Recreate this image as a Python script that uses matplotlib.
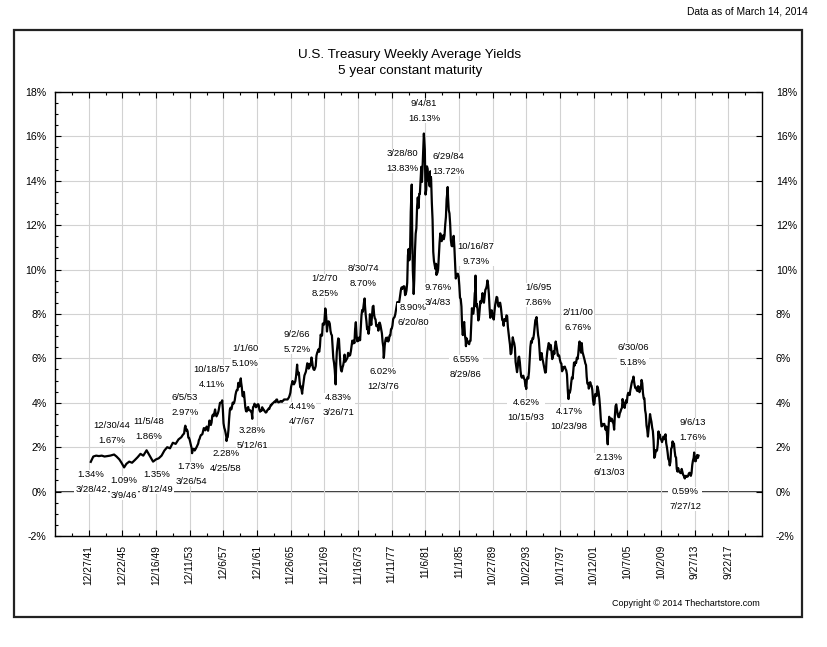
import matplotlib
matplotlib.use('Agg')
import matplotlib.pyplot as plt
import matplotlib.patches as patches
from matplotlib.ticker import FixedLocator, MultipleLocator
import matplotlib.dates as mdates
import numpy as np
import pandas as pd

plt.rcParams['font.family'] = ['Liberation Sans', 'DejaVu Sans']

# ---------------- data ----------------
early_dates = ['1942-03-28', '1942-07-15', '1942-11-15', '1943-03-15', '1943-07-15', '1943-11-15',
               '1944-03-15', '1944-07-15', '1944-12-30', '1945-04-15', '1945-08-15', '1945-11-15',
               '1946-03-09', '1946-06-15', '1946-10-15', '1947-02-15', '1947-06-15', '1947-10-15',
               '1948-02-15', '1948-06-15', '1948-11-05', '1949-03-15', '1949-08-12', '1949-12-15',
               '1950-04-15', '1950-08-15', '1950-12-15', '1951-04-15', '1951-08-15', '1951-12-15',
               '1952-04-15', '1952-08-15', '1952-12-15', '1953-02-15']
early_vals = [1.34, 1.58, 1.62, 1.60, 1.62, 1.58,
              1.60, 1.62, 1.67, 1.58, 1.45, 1.30,
              1.09, 1.25, 1.35, 1.30, 1.42, 1.55,
              1.70, 1.62, 1.86, 1.62, 1.35, 1.45,
              1.50, 1.62, 1.85, 2.00, 1.95, 2.20,
              2.15, 2.35, 2.45, 2.55]

yields_1950s = [2.62, 2.87, 2.94, 2.75, 2.80, 2.71, 2.43, 2.42, 2.32,
                2.17, 2.04, 1.93, 1.87, 1.92, 1.92, 1.85, 1.90, 1.96, 2.02, 2.09, 2.16,
                2.32, 2.38, 2.48, 2.55, 2.56, 2.59, 2.72, 2.86, 2.85, 2.76, 2.81, 2.93,
                2.84, 2.74, 2.93, 3.20, 3.08, 3.00, 3.11, 3.41, 3.47, 3.40, 3.56, 3.70,
                3.47, 3.39, 3.46, 3.53, 3.64, 3.83, 4.00, 4.00, 4.03, 4.08, 3.72, 3.08,
                2.88, 2.78, 2.64, 2.46, 2.41, 2.46, 2.77, 3.29, 3.69, 3.78, 3.70, 3.82,
                4.01, 3.96, 3.99, 4.12, 4.35, 4.50, 4.58, 4.57, 4.90, 4.72, 4.75, 5.01]
yields_1960s = [4.92, 4.69, 4.31, 4.29, 4.49, 4.12, 3.79, 3.62, 3.61, 3.76, 3.81, 3.67,
                3.67, 3.66, 3.60, 3.57, 3.47, 3.81, 3.84, 3.96, 3.90, 3.80, 3.82, 3.91,
                3.94, 3.89, 3.68, 3.60, 3.66, 3.64, 3.80, 3.71, 3.70, 3.64, 3.60, 3.56,
                3.58, 3.66, 3.68, 3.74, 3.72, 3.81, 3.89, 3.89, 3.96, 3.97, 4.01, 4.04,
                4.07, 4.03, 4.14, 4.15, 4.05, 4.02, 4.03, 4.05, 4.08, 4.07, 4.04, 4.09,
                4.10, 4.15, 4.15, 4.15, 4.15, 4.15, 4.15, 4.20, 4.25, 4.34, 4.46, 4.72,
                4.86, 4.98, 4.92, 4.83, 4.89, 4.97, 5.17, 5.50, 5.50, 5.27, 5.36, 5.00,
                4.70, 4.74, 4.54, 4.51, 4.75, 5.01, 5.23, 5.31, 5.40, 5.57, 5.78, 5.75,
                5.54, 5.59, 5.76, 5.69, 6.04, 5.85, 5.60, 5.50, 5.48, 5.55, 5.66, 6.12,
                6.25, 6.34, 6.41, 6.30, 6.54, 7.07, 7.01, 7.03, 7.57, 7.51, 7.53, 7.96]
yields_1970s = [8.17, 7.82, 7.21, 7.50, 7.67, 7.65, 7.56, 7.24, 7.09, 7.04, 6.49, 6.00,
                5.80, 5.48, 5.05, 5.61, 6.29, 6.59, 6.90, 6.87, 6.28, 5.73, 5.46, 5.41,
                5.59, 5.69, 5.87, 6.17, 5.85, 5.91, 5.97, 6.02, 6.25, 6.18, 6.12, 6.16,
                6.34, 6.60, 6.80, 6.67, 6.80, 6.69, 7.33, 7.63, 7.05, 6.77, 6.92, 6.80,
                6.95, 6.82, 7.31, 7.92, 8.18, 8.10, 8.38, 8.63, 8.37, 7.97, 7.68, 7.31,
                7.41, 7.11, 7.30, 7.99, 7.72, 7.51, 7.92, 8.33, 8.37, 7.97, 7.80, 7.76,
                7.46, 7.45, 7.49, 7.25, 7.59, 7.61, 7.49, 7.31, 7.13, 6.75, 6.52, 6.10,
                6.58, 6.83, 6.93, 6.79, 6.94, 6.76, 6.84, 7.03, 7.04, 7.32, 7.34, 7.48,
                7.77, 7.83, 7.86, 7.98, 8.18, 8.36, 8.54, 8.33, 8.43, 8.61, 8.84, 9.08,
                9.20, 9.13, 9.20, 9.25, 9.24, 8.85, 8.90, 9.06, 9.41, 10.63, 10.93, 10.42]
yields_1980s = [10.74, 12.60, 13.47, 11.84, 9.95, 9.21, 9.53, 10.84, 11.62, 11.86, 12.83, 13.25,
                12.77, 13.41, 13.41, 13.99, 14.63, 13.95, 14.79, 15.56, 15.93, 15.41, 13.38, 13.60,
                14.65, 14.54, 13.98, 13.97, 13.75, 14.43, 14.07, 13.00, 12.25, 10.80, 10.38, 10.22,
                10.03, 10.26, 9.86, 9.85, 10.03, 10.63, 11.21, 11.63, 11.43, 11.28, 11.41, 11.54,
                11.37, 11.54, 12.02, 12.37, 13.17, 13.48, 13.27, 12.68, 12.53, 12.06, 11.33, 11.07,
                11.05, 11.13, 11.52, 11.01, 10.34, 9.60, 9.70, 9.81, 9.81, 9.69, 9.28, 8.73,
                8.68, 8.34, 7.46, 7.05, 7.52, 7.64, 7.06, 6.80, 6.92, 6.83, 6.76, 6.67,
                6.64, 6.79, 6.79, 7.57, 8.26, 8.02, 8.01, 8.32, 8.94, 9.08, 8.35, 8.45,
                8.18, 7.71, 7.83, 8.19, 8.58, 8.49, 8.66, 8.94, 8.69, 8.51, 8.79, 9.09,
                9.15, 9.27, 9.51, 9.30, 8.91, 8.29, 7.83, 8.09, 8.17, 7.97, 7.81, 7.75]
yields_1990s = [8.12, 8.42, 8.60, 8.77, 8.74, 8.43, 8.33, 8.44, 8.51, 8.33, 8.02, 7.73,
                7.70, 7.47, 7.77, 7.70, 7.70, 7.94, 7.91, 7.43, 7.14, 6.87, 6.62, 6.19,
                6.24, 6.58, 6.95, 6.78, 6.69, 6.48, 5.84, 5.60, 5.38, 5.60, 6.04, 6.08,
                5.83, 5.43, 5.19, 5.13, 5.20, 5.22, 5.09, 5.03, 4.73, 4.71, 5.06, 5.15,
                5.09, 5.40, 5.94, 6.52, 6.78, 6.70, 6.91, 6.88, 7.08, 7.40, 7.72, 7.78,
                7.76, 7.37, 7.05, 6.86, 6.41, 5.93, 6.01, 6.24, 6.00, 5.86, 5.69, 5.51,
                5.36, 5.38, 5.97, 6.30, 6.48, 6.69, 6.64, 6.39, 6.60, 6.27, 5.97, 6.07,
                6.33, 6.20, 6.54, 6.76, 6.57, 6.38, 6.12, 6.16, 6.11, 5.93, 5.80, 5.77,
                5.42, 5.49, 5.61, 5.61, 5.63, 5.52, 5.46, 5.27, 4.62, 4.18, 4.54, 4.45,
                4.60, 4.91, 5.14, 5.08, 5.44, 5.81, 5.68, 5.84, 5.80, 6.03, 5.97, 6.19]
yields_2000s = [6.58, 6.68, 6.50, 6.26, 6.69, 6.30, 6.18, 6.06, 5.93, 5.78, 5.70, 5.17,
                4.86, 4.89, 4.64, 4.76, 4.93, 4.81, 4.76, 4.57, 4.12, 3.91, 3.97, 4.39,
                4.34, 4.30, 4.74, 4.65, 4.49, 4.19, 3.81, 3.29, 2.94, 2.95, 3.05, 3.03,
                3.05, 2.90, 2.78, 2.93, 2.52, 2.27, 2.87, 3.37, 3.18, 3.19, 3.29, 3.27,
                3.12, 3.07, 2.79, 3.39, 3.85, 3.93, 3.69, 3.47, 3.36, 3.35, 3.53, 3.60,
                3.71, 3.77, 4.17, 4.00, 3.85, 3.77, 3.98, 4.12, 4.01, 4.33, 4.45, 4.39,
                4.35, 4.57, 4.72, 4.90, 5.00, 5.07, 5.04, 4.82, 4.67, 4.69, 4.58, 4.53,
                4.75, 4.71, 4.48, 4.59, 4.67, 5.03, 4.88, 4.43, 4.20, 4.20, 3.67, 3.49,
                2.98, 2.78, 2.48, 2.84, 3.15, 3.49, 3.30, 3.14, 2.88, 2.73, 2.29, 1.52,
                1.60, 1.87, 1.82, 1.86, 2.13, 2.71, 2.46, 2.57, 2.37, 2.33, 2.23, 2.34]
yields_2010s = [2.48, 2.36, 2.43, 2.58, 2.18, 2.00, 1.76, 1.47, 1.41, 1.18, 1.35, 1.93,
                1.99, 2.26, 2.11, 2.17, 1.84, 1.58, 1.54, 1.02, 0.90, 1.06, 0.91, 0.89,
                0.84, 0.83, 1.02, 0.89, 0.76, 0.71, 0.62, 0.71, 0.67, 0.71, 0.67, 0.70,
                0.81, 0.85, 0.82, 0.71, 0.84, 1.20, 1.40, 1.52, 1.60, 1.37, 1.37, 1.58,
                1.65, 1.52]

# labelled weekly extremes
extreme_dates = ['1953-06-05', '1954-03-26', '1957-10-18', '1958-04-25', '1960-01-01', '1961-05-12',
                 '1966-09-02', '1967-04-07', '1970-01-02', '1971-03-26', '1974-08-30', '1976-12-03',
                 '1980-03-28', '1980-06-20', '1981-09-04', '1983-03-04', '1984-06-29', '1986-08-29',
                 '1987-10-16', '1993-10-15', '1995-01-06', '1998-10-23', '2000-02-11', '2003-06-13',
                 '2006-06-30', '2012-07-27', '2013-09-06', '2014-03-14']
extreme_vals = [2.97, 1.73, 4.11, 2.28, 5.10, 3.28,
                5.72, 4.41, 8.25, 4.83, 8.70, 6.02,
                13.83, 8.90, 16.13, 9.76, 13.72, 6.55,
                9.73, 4.62, 7.86, 4.17, 6.76, 2.13,
                5.18, 0.59, 1.76, 1.62]

tick_dates = ['1941-12-27', '1945-12-22', '1949-12-16', '1953-12-11', '1957-12-06', '1961-12-01',
              '1965-11-26', '1969-11-21', '1973-11-16', '1977-11-11', '1981-11-06', '1985-11-01',
              '1989-10-27', '1993-10-22', '1997-10-17', '2001-10-12', '2005-10-07', '2009-10-02',
              '2013-09-27', '2017-09-22']
tick_labels = ['12/27/41', '12/22/45', '12/16/49', '12/11/53', '12/6/57', '12/1/61',
               '11/26/65', '11/21/69', '11/16/73', '11/11/77', '11/6/81', '11/1/85',
               '10/27/89', '10/22/93', '10/17/97', '10/12/01', '10/7/05', '10/2/09',
               '9/27/13', '9/22/17']

y_ticks = list(range(-2, 19, 2))

# annotation texts (line1, line2) and their pixel centres
annot_text = [('12/30/44', '1.67%'), ('11/5/48', '1.86%'), ('1.34%', '3/28/42'), ('1.09%', '3/9/46'),
              ('1.35%', '8/12/49'), ('6/5/53', '2.97%'), ('1.73%', '3/26/54'), ('10/18/57', '4.11%'),
              ('2.28%', '4/25/58'), ('1/1/60', '5.10%'), ('3.28%', '5/12/61'), ('9/2/66', '5.72%'),
              ('4.41%', '4/7/67'), ('1/2/70', '8.25%'), ('4.83%', '3/26/71'), ('8/30/74', '8.70%'),
              ('6.02%', '12/3/76'), ('3/28/80', '13.83%'), ('8.90%', '6/20/80'), ('9/4/81', '16.13%'),
              ('6/29/84', '13.72%'), ('9.76%', '3/4/83'), ('10/16/87', '9.73%'), ('6.55%', '8/29/86'),
              ('1/6/95', '7.86%'), ('4.62%', '10/15/93'), ('2/11/00', '6.76%'), ('4.17%', '10/23/98'),
              ('6/30/06', '5.18%'), ('2.13%', '6/13/03'), ('9/6/13', '1.76%'), ('0.59%', '7/27/12')]
annot_px = [(112, 433), (149, 429), (91, 482), (124, 488),
            (157, 482), (185, 405), (191, 474), (212, 377),
            (226, 461), (245, 356), (252, 438), (297, 342),
            (302, 414), (325, 286), (338, 405), (363, 276),
            (383, 379), (402, 161), (413, 315), (424, 111),
            (448, 164), (438, 295), (476, 254), (466, 367),
            (538, 295), (526, 410), (578, 320), (569, 419),
            (633, 355), (609, 465), (693, 430), (685, 499)]

# ---------------- build series ----------------
month_vals = yields_1950s + yields_1960s + yields_1970s + yields_1980s + yields_1990s + yields_2000s + yields_2010s
month_dates = pd.date_range('1953-04-01', periods=len(month_vals), freq='MS') + pd.Timedelta(days=14)

df = pd.DataFrame({
    'date': list(pd.to_datetime(early_dates)) + list(month_dates) + list(pd.to_datetime(extreme_dates)),
    'val': early_vals + month_vals + extreme_vals,
}).sort_values('date')

# ---------------- figure ----------------
W, H = 828, 647
fig = plt.figure(figsize=(W / 100, H / 100), dpi=100)
fig.patch.set_facecolor('white')

# outer frame
fig.patches.append(patches.Rectangle((14 / W, 1 - 617 / H), (802 - 14) / W, (617 - 30) / H,
                                     transform=fig.transFigure, fill=False, ec='#222222', lw=1.6))

ax = fig.add_axes([55 / W, 1 - 536 / H, (762 - 55) / W, (536 - 92) / H])

tk = mdates.date2num(pd.to_datetime(tick_dates))
step = tk[1] - tk[0]
x0, x1 = tk[0] - step, tk[-1] + step
ax.set_xlim(x0, x1)
ax.set_ylim(-2, 18)

ax.grid(True, which='major', color='#d2d2d2', lw=0.8, zorder=0)
ax.axhline(0, color='black', lw=1.1, zorder=1)
ax.plot(mdates.date2num(df['date']), df['val'], color='black', lw=1.6, zorder=3)

ax.xaxis.set_major_locator(FixedLocator(tk))
ax.xaxis.set_minor_locator(FixedLocator(np.arange(x0 + step / 2, x1, step)))
ax.set_xticklabels(tick_labels, rotation=90, fontsize=7.4)
ax.set_yticks(y_ticks)
ax.set_yticklabels([f'{v}%' for v in y_ticks], fontsize=7.6)
ax.yaxis.set_minor_locator(MultipleLocator(0.5))

ax.tick_params(which='both', direction='in', top=True, right=True, width=0.8)
ax.tick_params(which='major', length=4)
ax.tick_params(which='minor', length=2.5)
ax.tick_params(axis='x', pad=6.5)
ax.tick_params(axis='y', pad=6)
for s in ax.spines.values():
    s.set_linewidth(1.0)
    s.set_color('black')

# right side labels
axr = ax.twinx()
axr.set_ylim(-2, 18)
axr.set_yticks(y_ticks)
axr.set_yticklabels([f'{v}%' for v in y_ticks], fontsize=7.6)
axr.tick_params(axis='y', direction='in', length=4, width=0.8, pad=10)
for s in axr.spines.values():
    s.set_visible(False)

# annotations
for (a, b), (px, py) in zip(annot_text, annot_px):
    fig.text(px / W, 1 - py / H, f'{a}\n{b}', ha='center', va='center', fontsize=6.8,
             linespacing=1.8, zorder=6,
             bbox=dict(fc='white', ec='none', pad=0.5))

fig.text(410 / W, 1 - 55 / H, 'U.S. Treasury Weekly Average Yields', ha='center', va='center', fontsize=9.7)
fig.text(410 / W, 1 - 71 / H, '5 year constant maturity', ha='center', va='center', fontsize=9.7)
fig.text(808 / W, 1 - 12 / H, 'Data as of March 14, 2014', ha='right', va='center', fontsize=7.4)
fig.text(760 / W, 1 - 603 / H, 'Copyright \u00a9 2014 Thechartstore.com', ha='right', va='center', fontsize=6.5)

fig.savefig('out.png', dpi=100, facecolor='white')
